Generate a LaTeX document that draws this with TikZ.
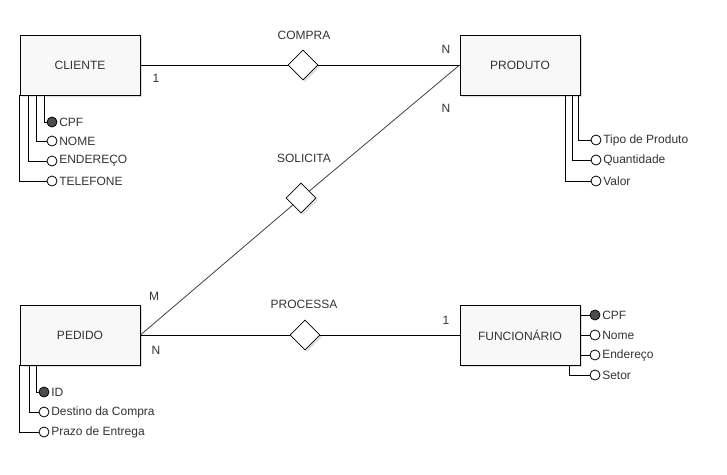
\documentclass[tikz,border=0pt]{standalone}
\usepackage{fontspec}
\setmainfont{Liberation Sans}
\usetikzlibrary{shapes.geometric,shadows}
\definecolor{txtgray}{HTML}{333333}
\definecolor{boxfill}{HTML}{F8F8F8}
\tikzset{
  entity/.style={draw=black,fill=boxfill,minimum width=120pt,minimum height=60pt,
    drop shadow={opacity=0.25,shadow xshift=2pt,shadow yshift=-2pt}},
  relation/.style={draw=black,diamond,fill=white,minimum width=30pt,minimum height=30pt,inner sep=0pt,
    drop shadow={opacity=0.25,shadow xshift=2pt,shadow yshift=-2pt}},
  attr/.style={circle,draw=black,fill=white,minimum size=10pt,inner sep=0pt},
  keyattr/.style={attr,fill=black!70},
  attrtext/.style={text=txtgray,inner sep=1.5pt}
}
\begin{document}
\begin{tikzpicture}[x=1pt,y=-1pt,line width=0.8pt,font=\fontsize{12}{14}\selectfont,every node/.append style={text=txtgray}]
            \useasboundingbox (0,0) rectangle (727,474);

            % entidades
            \node[entity] (cliente) at (80,65) {CLIENTE};
            \node[entity] (produto) at (520,65) {PRODUTO};
            \node[entity] (pedido) at (80,335) {PEDIDO};
            \node[entity] (func) at (520,335) {FUNCIONÁRIO};

            % relacionamentos
            \node[relation] (compra) at (303,65) {};
            \node[relation] (solicita) at (301,198) {};
            \node[relation] (processa) at (305,335) {};
            \node (compra-lbl) at (304,35) {COMPRA};
            \node (solicita-lbl) at (304,158) {SOLICITA};
            \node (processa-lbl) at (304,304) {PROCESSA};

            \path[draw] (cliente) -- (compra) -- (produto);
            \path[draw=black!75] (pedido.east) -- (solicita) -- (produto.west);
            \path[draw] (pedido) -- (processa) -- (func);

            % cardinalidades
            \node (c1) at (156,78) {1};
            \node (c2) at (446,49) {N};
            \node (c3) at (446,108) {N};
            \node (c4) at (154,296) {M};
            \node (c5) at (156,350) {N};
            \node (c6) at (446,320) {1};

            % atributos CLIENTE
            \node[keyattr,label={[attrtext]east:CPF}] (cli-cpf) at (52,122) {};
            \node[attr,label={[attrtext]east:NOME}] (cli-nome) at (52,141) {};
            \node[attr,label={[attrtext]east:ENDEREÇO}] (cli-end) at (52,161) {};
            \node[attr,label={[attrtext]east:TELEFONE}] (cli-tel) at (52,181) {};
            \draw ([xshift=25pt]cliente.south west) |- (cli-cpf);
            \draw ([xshift=17pt]cliente.south west) |- (cli-nome);
            \draw ([xshift=9pt]cliente.south west) |- (cli-end);
            \draw (cliente.south west) |- (cli-tel);

            % atributos PRODUTO
            \node[attr,label={[attrtext]east:Tipo de Produto}] (prod-tipo) at (596,140) {};
            \node[attr,label={[attrtext]east:Quantidade}] (prod-qtd) at (596,160) {};
            \node[attr,label={[attrtext]east:Valor}] (prod-valor) at (596,181) {};
            \draw ([xshift=-2pt]produto.south east) |- (prod-tipo);
            \draw ([xshift=-8pt]produto.south east) |- (prod-qtd);
            \draw ([xshift=-15pt]produto.south east) |- (prod-valor);

            % atributos PEDIDO
            \node[keyattr,label={[attrtext]east:ID}] (ped-id) at (44,392) {};
            \node[attr,label={[attrtext]east:Destino da Compra}] (ped-dest) at (44,412) {};
            \node[attr,label={[attrtext]east:Prazo de Entrega}] (ped-prazo) at (44,432) {};
            \draw ([xshift=17pt]pedido.south west) |- (ped-id);
            \draw ([xshift=10pt]pedido.south west) |- (ped-dest);
            \draw (pedido.south west) |- (ped-prazo);

            % atributos FUNCIONARIO
            \node[keyattr,label={[attrtext]east:CPF}] (fun-cpf) at (595,315) {};
            \node[attr,label={[attrtext]east:Nome}] (fun-nome) at (595,335) {};
            \node[attr,label={[attrtext]east:Endereço}] (fun-end) at (595,355) {};
            \node[attr,label={[attrtext]east:Setor}] (fun-setor) at (595,375) {};
            \draw (func.east |- fun-cpf) -- (fun-cpf);
            \draw (func.east |- fun-nome) -- (fun-nome);
            \draw (func.east |- fun-end) -- (fun-end);
            \draw ([xshift=-11pt]func.south east) |- (fun-setor);
        \end{tikzpicture}
\end{document}
